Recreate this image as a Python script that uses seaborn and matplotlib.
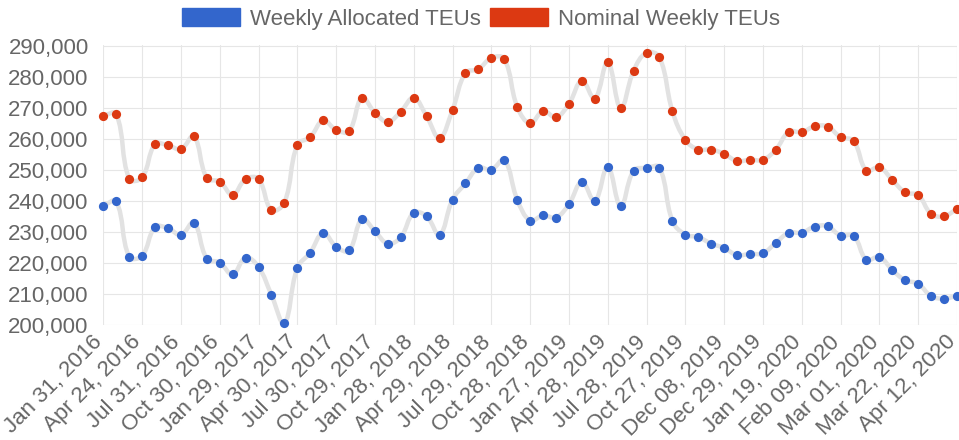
import numpy as np
import pandas as pd
import seaborn as sns
import matplotlib
matplotlib.use("Agg")
import matplotlib.pyplot as plt
import matplotlib.transforms as mtransforms
from matplotlib.path import Path
from matplotlib.patches import PathPatch, Patch

tick_labels = ["Jan 31, 2016", "Apr 24, 2016", "Jul 31, 2016", "Oct 30, 2016",
               "Jan 29, 2017", "Apr 30, 2017", "Jul 30, 2017", "Oct 29, 2017",
               "Jan 28, 2018", "Apr 29, 2018", "Jul 29, 2018", "Oct 28, 2018",
               "Jan 27, 2019", "Apr 28, 2019", "Jul 28, 2019", "Oct 27, 2019",
               "Dec 08, 2019", "Dec 29, 2019", "Jan 19, 2020", "Feb 09, 2020",
               "Mar 01, 2020", "Mar 22, 2020", "Apr 12, 2020"]

allocated = [238400, 239800, 222000, 222300, 231500, 231200, 229000, 233000,
             221400, 220100, 216300, 221700, 218700, 209700, 200500, 218400,
             223300, 229700, 225200, 224000, 234100, 230200, 226200, 228300,
             236100, 235000, 229000, 240400, 245600, 250600, 250000, 253200,
             240400, 233600, 235300, 234600, 238900, 246100, 239900, 251000,
             238200, 249700, 250600, 250700, 233500, 229100, 228300, 226200,
             224800, 222500, 222900, 223100, 226500, 229700, 229700, 231700,
             231800, 228800, 228800, 221000, 221900, 217700, 214400, 213300,
             209300, 208500, 209400]

nominal = [267400, 268000, 247100, 247500, 258200, 257900, 256600, 260800,
           247300, 246200, 241900, 247000, 247000, 237000, 239400, 258000,
           260500, 265900, 262800, 262400, 273200, 268300, 265400, 268700,
           273200, 267200, 260200, 269300, 281200, 282400, 286000, 285700,
           270300, 264900, 268900, 266900, 271200, 278700, 272900, 284700,
           269800, 281900, 287700, 286200, 268800, 259600, 256500, 256500,
           255100, 252800, 253200, 253200, 256500, 262200, 262100, 264000,
           263900, 260500, 259300, 249700, 250800, 246700, 242700, 241800,
           235800, 235000, 237400]

series_names = ["Weekly Allocated TEUs", "Nominal Weekly TEUs"]
series_colors = ["#3366cc", "#dc3912"]

sns.set_theme(style="white")
plt.rcParams['font.family'] = ['Liberation Sans', 'DejaVu Sans']

W, H = 959, 440
fig = plt.figure(figsize=(W / 100, H / 100), dpi=100)
L, R, T, B = 103.3, 957.0, 45.5, 325.0
ax = fig.add_axes([L / W, 1 - B / H, (R - L) / W, (B - T) / H])

n = len(allocated)
x = np.arange(n)
ax.set_xlim(0, n - 1)
ax.set_ylim(200000, 290000)


def smooth_line(xs, ys, tension=0.4):
    pts = ax.transData.transform(np.column_stack([xs, ys]))
    m = len(pts)
    cps_prev = np.zeros_like(pts)
    cps_next = np.zeros_like(pts)
    for i in range(m):
        prev = pts[i - 1] if i > 0 else pts[i]
        nxt = pts[i + 1] if i < m - 1 else pts[i]
        cur = pts[i]
        d01 = np.hypot(*(cur - prev))
        d12 = np.hypot(*(nxt - cur))
        tot = d01 + d12
        s01 = d01 / tot if tot else 0
        s12 = d12 / tot if tot else 0
        cps_prev[i] = cur - tension * s01 * (nxt - prev)
        cps_next[i] = cur + tension * s12 * (nxt - prev)
    verts = [pts[0]]
    codes = [Path.MOVETO]
    for i in range(m - 1):
        verts += [cps_next[i], cps_prev[i + 1], pts[i + 1]]
        codes += [Path.CURVE4] * 3
    inv = ax.transData.inverted()
    verts = inv.transform(np.array(verts))
    return PathPatch(Path(verts, codes), facecolor="none", edgecolor="#e2e2e2",
                     lw=3.2, zorder=2, capstyle="round", joinstyle="round")


df = pd.DataFrame({"idx": np.concatenate([x, x]),
                   "value": allocated + nominal,
                   "series": [series_names[0]] * n + [series_names[1]] * n})

for name in series_names:
    sub = df[df.series == name]
    ax.add_patch(smooth_line(sub.idx.values, sub.value.values))

for name, col in zip(series_names, series_colors):
    sub = df[df.series == name]
    sns.scatterplot(x=sub.idx.values, y=sub.value.values, color=col, s=44,
                    linewidth=0, zorder=4, clip_on=False, ax=ax, legend=False)

for s in ax.spines.values():
    s.set_visible(False)

ax.set_yticks(np.arange(200000, 290001, 10000))
ax.set_yticklabels([f"{v:,}" for v in range(200000, 290001, 10000)])
ax.set_xticks(x[::3])
ax.set_xticklabels(tick_labels, rotation=45, ha="right", va="center",
                   rotation_mode="anchor")
ax.grid(True, color="#e6e6e6", lw=0.8)
ax.set_axisbelow(True)
ax.tick_params(axis="both", colors="#e6e6e6", labelcolor="#666666",
               labelsize=16, width=0.8)
ax.tick_params(axis="y", length=9.5, pad=1)
ax.tick_params(axis="x", length=10.5, pad=1)
ax.set_xlabel("")
ax.set_ylabel("")

offset = mtransforms.ScaledTranslation(-4 / 100, 2 / 100, fig.dpi_scale_trans)
for lbl in ax.get_xticklabels():
    lbl.set_transform(lbl.get_transform() + offset)

handles = [Patch(facecolor=c, edgecolor=c, label=nm)
           for nm, c in zip(series_names, series_colors)]
fig.legend(handles=handles, loc="center", bbox_to_anchor=(481 / W, 1 - 19 / H),
           ncol=2, frameon=False, fontsize=16, handlelength=2.6,
           handleheight=0.85, handletextpad=0.45, columnspacing=0.45,
           labelcolor="#666666", borderpad=0, borderaxespad=0)

fig.savefig("out.png", dpi=100)
